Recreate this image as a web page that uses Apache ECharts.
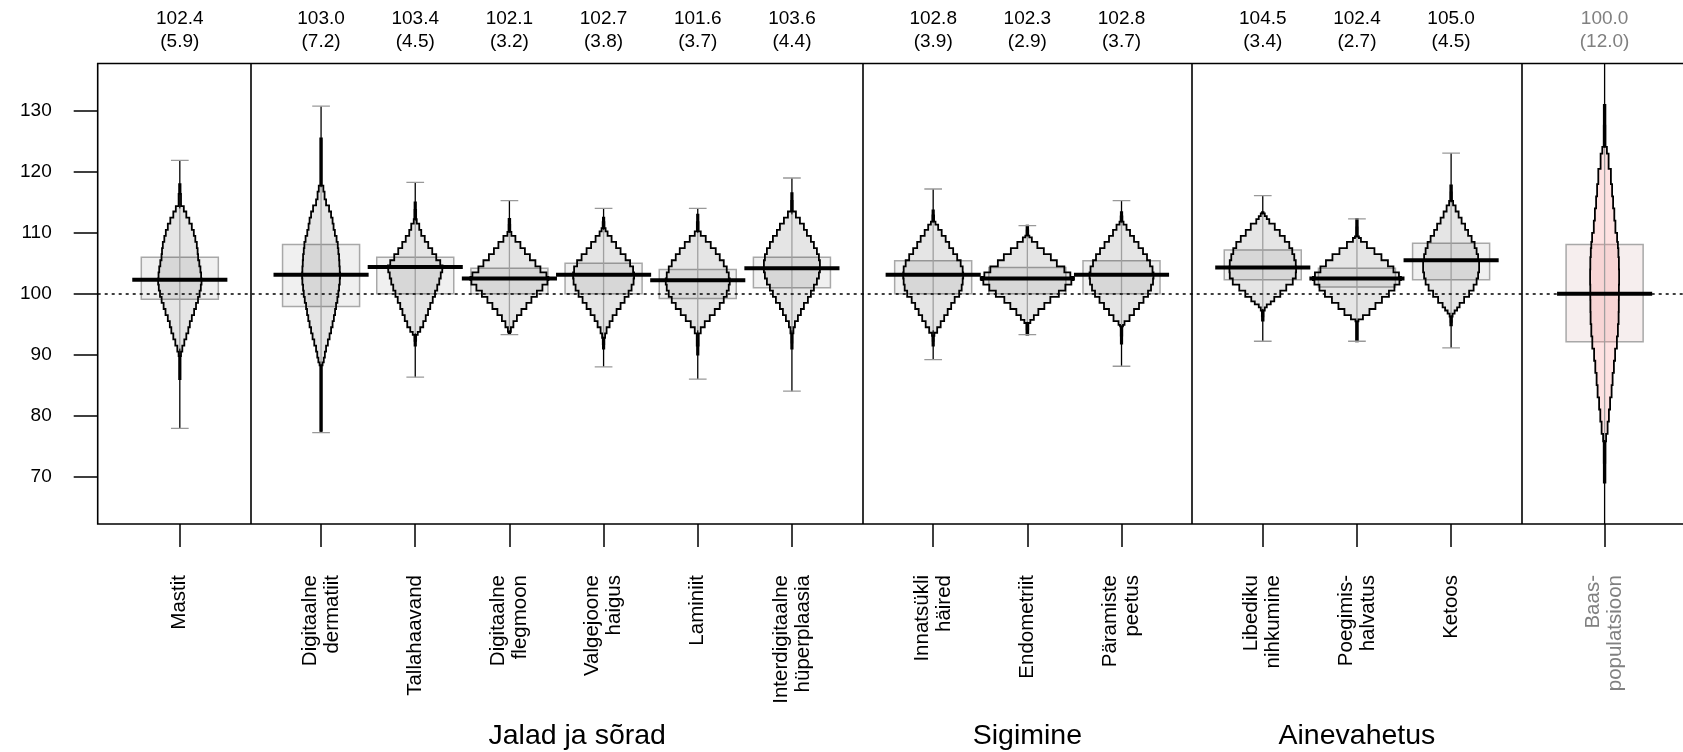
<!DOCTYPE html>
<html><head><meta charset="utf-8">
<script src="https://cdn.jsdelivr.net/npm/echarts@6/dist/echarts.min.js"></script>
<style>html,body{margin:0;padding:0;background:#fff}#c{width:1683px;height:752px}</style>
</head><body><div id="c"></div>
<script>
// ---------- data ----------
const categories = ['Mastit', 'Digitaalne\ndermatiit', 'Tallahaavand', 'Digitaalne\nflegmoon', 'Valgejoone\nhaigus',
  'Laminiit', 'Interdigitaalne\nhüperplaasia', 'Innatsükli\nhäired', 'Endometriit', 'Päramiste\npeetus',
  'Libediku\nnihkumine', 'Poegimis-\nhalvatus', 'Ketoos', 'Baas-\npopulatsioon'];
const positions = [1, 2.5, 3.5, 4.5, 5.5, 6.5, 7.5, 9, 10, 11, 12.5, 13.5, 14.5, 16.13];
const meanLabels = [102.4, 103.0, 103.4, 102.1, 102.7, 101.6, 103.6, 102.8, 102.3, 102.8, 104.5, 102.4, 105.0, 100.0];
const sdLabels = [5.9, 7.2, 4.5, 3.2, 3.8, 3.7, 4.4, 3.9, 2.9, 3.7, 3.4, 2.7, 4.5, 12.0];
const centerLine = [102.3, 103.1, 104.4, 102.5, 103.1, 102.2, 104.2, 103.1, 102.5, 103.1, 104.3, 102.5, 105.5, 100.0];
const boxLow = [99.1, 97.9, 100.0, 100.0, 100.0, 99.2, 101.0, 100.0, 100.0, 100.0, 102.3, 101.1, 102.3, 92.1];
const boxHigh = [106.0, 108.1, 106.0, 104.2, 105.0, 104.0, 106.0, 105.4, 104.3, 105.4, 107.2, 104.2, 108.3, 108.1];
const whiskerLow = [77.9, 77.2, 86.3, 93.3, 88.0, 86.0, 84.0, 89.2, 93.3, 88.1, 92.2, 92.2, 91.1, 55];
const whiskerHigh = [121.9, 130.8, 118.3, 115.3, 114.0, 114.0, 119.0, 117.2, 111.2, 115.3, 116.1, 112.3, 123.1, 145];
// violin half-widths (density) at score values, top to bottom: [score, density]
const violinProfiles = [
  [[118,0.7],[114.8,1.2],[114,4],[113,6.5],[112,9.5],[111,12],[110,14],[109,15.5],[108,17],[107,17.8],[106,18.3],[105,19.5],[104,20.6],[103,21.3],[102,21.7],[101,21],[100,19.8],[99,18.2],[98,16.2],[97,14.3],[96,12],[95,10],[94,8.5],[93,6.5],[92,4.5],[91,2.5],[90,1.2],[89.5,0.7],[86,0.7]],
  [[125.5,0.8],[118,0.8],[117.5,2.3],[116,3.5],[115,5],[114,8],[113,10],[112,11.5],[111,12.5],[110,13.8],[109,15.5],[108,16.7],[107,17.3],[106,18],[105,18.3],[104,18.7],[103,19],[102,18.7],[101,18],[100,17.3],[99,16.3],[98,15],[97,14],[96,12.8],[95,11.5],[94,10],[93,8.5],[92,6.8],[91,5],[90,3.8],[89,2.7],[88.5,1.5],[88,0.8],[77.5,0.8]],
  [[115,0.7],[112.5,0.9],[112,1.5],[111,4],[110,6],[109,9.5],[108,13],[107,17],[106,21],[105,25],[104.3,27.3],[104,27],[103,25.5],[102,24],[101,22],[100,19.8],[99,17.5],[98,15],[97,12.8],[96,10.5],[95,8],[94,5],[93.5,2.5],[93,0.9],[91.5,0.7]],
  [[112.3,0.8],[110.3,0.9],[110,2],[109,6],[108,11],[107,15.5],[106,20.5],[105,26],[104,31],[103,37],[102.5,39],[102,38],[101,33],[100,27.5],[99,22],[98,17],[97,12],[96,7.5],[95,4],[94,1.5],[93.5,0.8]],
  [[112.5,0.7],[111,0.9],[110.5,2],[110,4],[109,8],[108,12.5],[107,17],[106,22],[105,26.5],[104,29.5],[103,30.5],[102,30],[101,28],[100,25],[99,21],[98,17],[97,13],[96,9],[95,6],[94,3],[93,1.5],[92.5,0.8],[91,0.7]],
  [[113,0.7],[110.5,0.9],[110,3],[109,8],[108,13],[107,18],[106,22],[105,26],[104,29],[103,31],[102,32],[101,31],[100,29],[99,26],[98,22],[97,17],[96,12],[95,7],[94,3],[93,1],[90,0.7]],
  [[116.5,0.7],[114,0.9],[113,4],[112,8],[111,12],[110,15],[109,19],[108,22],[107,25],[106,27],[105,28],[104,28],[103,27],[102,25],[101,22],[100,19],[99,16],[98,12],[97,9],[96,6],[95,3],[94,1.5],[93,0.8],[91,0.7]],
  [[113.7,0.7],[112,0.9],[111.7,2.3],[111,5],[110,8.5],[109,12.5],[108,16],[107,20],[106,24],[105,27.5],[104,29.5],[103,30],[102,29.5],[101,28.5],[100,26],[99,21.5],[98,18],[97,14.5],[96,11],[95,7.5],[94,4],[93.2,1.2],[93,0.8],[91.5,0.7]],
  [[111.2,0.8],[109.6,0.9],[109.5,2],[109,4.5],[108,10],[107,16.5],[106,23.5],[105,29.5],[104,37],[103,43],[102.5,46],[102,44],[101,38],[100,31.5],[99,23],[98,17],[97,11],[96,6.5],[95.4,3],[95,1],[93.3,0.9]],
  [[113.4,0.7],[112,0.9],[111.7,2],[111,5],[110,8.5],[109,12.5],[108,17],[107,21.5],[106,25.5],[105,28.5],[104,31],[103,32],[102,31.5],[101,29.5],[100,26.5],[99,22],[98,17.5],[97,12.5],[96,8],[95,3],[94.8,1.5],[94.5,0.8],[91.8,0.7]],
  [[113.4,0.8],[113,2],[112.5,4],[112,6.5],[111,12],[110,17],[109,22],[108,26.5],[107,29.5],[106,31.5],[105,33],[104,33.3],[103,33],[102,30],[101,23.5],[100,17.5],[99,11.5],[98.5,8],[98,4],[97.5,2],[97,0.9],[95.6,0.8]],
  [[112.3,0.8],[109.5,0.9],[109.3,2],[109,4],[108,10],[107,17.5],[106,24.5],[105,31],[104,36.5],[103,42],[102.5,44],[102,42.5],[101,37.5],[100,32],[99,25],[98,18.5],[97,12.5],[96,6],[95.6,1.5],[95.3,0.9],[92.2,0.9]],
  [[117.8,0.8],[115.5,0.9],[115,2],[114,4.5],[113,7.5],[112,10.5],[111,14],[110,17],[109,20.5],[108,23.5],[107,25.5],[106,27],[105,28],[104,28],[103,27],[102,25.5],[101,22.5],[100,18],[99,13],[98,8.5],[97.5,6],[97,3.5],[96.5,1.5],[96,0.9],[94.8,0.8]],
  [[131,0.8],[124.2,0.9],[124,2.3],[122,4],[119,6.3],[117,7.5],[115,8.5],[113,9.7],[111,10.8],[109,12.5],[108,13.3],[107,13.8],[105,14.3],[103,14.5],[100,14.3],[98,14.2],[96,14],[94,13.3],[92,12.3],[90,10.5],[88,9.3],[86,8],[84,7],[82,5.5],[80,4.3],[78,3],[76,1.5],[75.5,0.9],[69,0.8]]
];
const groupNames = ['Jalad ja sõrad', 'Sigimine', 'Ainevahetus'];
const groupCenters = [5.22, 10, 13.5];
const separators = [1.75, 8.25, 11.75, 15.25];
const yTicks = [70, 80, 90, 100, 110, 120, 130];
const referenceScore = 100;

// ---------- layout / style ----------
const X_MIN = 0.128, X_MAX = 17.143, Y_MIN = 62.2, Y_MAX = 137.8;
const DENS_PX = 1 / 94.17;   // x-units per density unit
const FONT = "'Liberation Sans', Arial, sans-serif";
const BASE = categories.length - 1;
const idxOf = v => positions.findIndex(p => Math.abs(p - v) < 1e-6);
const labelColor = v => idxOf(v) === BASE ? '#808080' : '#000';

// stepped outline (histogram-like), switching width halfway between profile levels
function stepSide(prof, cx, sign, scale, py) {
  const out = [];
  for (let k = 0; k < prof.length; k++) {
    const [v, d] = prof[k];
    const xk = cx + sign * d * scale;
    const yTop = k === 0 ? py(v) : py((prof[k - 1][0] + v) / 2);
    const yBot = k === prof.length - 1 ? py(v) : py((v + prof[k + 1][0]) / 2);
    out.push([xk, yTop], [xk, yBot]);
  }
  return out;
}

function renderItem(params, api) {
  const i = params.dataIndex;
  const x = api.value(0);
  const unit = api.size([1, 0])[0];
  const cx = api.coord([x, 100])[0];
  const py = v => api.coord([x, v])[1];
  const isBase = i === BASE;
  const children = [];
  const bw = 0.409 * unit;
  const bt = py(api.value(3)), bb = py(api.value(2));
  children.push({type: 'rect', shape: {x: cx - bw, y: bt, width: 2 * bw, height: bb - bt},
    style: {fill: isBase ? '#f6eeee' : '#f0f0f0', stroke: '#a8a8a8', lineWidth: 1.5}});
  const prof = violinProfiles[i];
  const scale = DENS_PX * unit;
  const left = stepSide(prof, cx, -1, scale, py);
  const right = stepSide(prof, cx, 1, scale, py).reverse();
  const pts = left.concat(right);
  children.push({type: 'polygon', shape: {points: pts},
    style: {fill: isBase ? 'rgba(250,150,150,0.28)' : 'rgba(0,0,0,0.1)', stroke: null}});
  const first = prof.findIndex(p => p[1] >= 1.5);
  const last = prof.length - 1 - prof.slice().reverse().findIndex(p => p[1] >= 1.5);
  const bodyTop = prof[first][0], bodyBot = prof[last][0];
  children.push({type: 'line', shape: {x1: cx, y1: py(bodyTop), x2: cx, y2: py(bodyBot)},
    style: {stroke: '#a0a0a0', lineWidth: 1.3}});
  const wHi = whiskerHigh[i], wLo = whiskerLow[i];
  children.push({type: 'line', shape: {x1: cx, y1: py(wHi), x2: cx, y2: py(bodyTop)}, style: {stroke: '#000', lineWidth: 1.3}});
  children.push({type: 'line', shape: {x1: cx, y1: py(bodyBot), x2: cx, y2: py(wLo)}, style: {stroke: '#000', lineWidth: 1.3}});
  children.push({type: 'polygon', shape: {points: pts}, style: {fill: 'none', stroke: '#000', lineWidth: 1.8}});
  const cw = 0.094 * unit;
  [wHi, wLo].forEach(v => children.push({type: 'line', shape: {x1: cx - cw, y1: py(v), x2: cx + cw, y2: py(v)},
    style: {stroke: '#999', lineWidth: 1.3}}));
  const my = py(api.value(1));
  children.push({type: 'line', shape: {x1: cx - 0.505 * unit, y1: my, x2: cx + 0.505 * unit, y2: my},
    style: {stroke: '#000', lineWidth: 4}});
  return {type: 'group', children};
}

const chart = echarts.init(document.getElementById('c'), null, {renderer: 'canvas'});
const axisCommon = {type: 'value', min: X_MIN, max: X_MAX, splitLine: {show: false}, axisLine: {show: false}};
chart.setOption({
  animation: false,
  backgroundColor: '#fff',
  grid: {left: 97.7, top: 63.5, right: -17, height: 460.5, show: true, borderColor: '#000', borderWidth: 1.6,
    containLabel: false, outerBoundsMode: 'none'},
  xAxis: [
    Object.assign({}, axisCommon, {
      position: 'bottom',
      axisTick: {show: true, customValues: positions, length: 23, lineStyle: {color: '#000', width: 1.5}},
      axisLabel: {show: true, customValues: positions, rotate: 90, margin: 51, fontSize: 20.5, lineHeight: 22,
        fontFamily: FONT, color: labelColor, formatter: v => categories[idxOf(v)] || ''}
    }),
    Object.assign({}, axisCommon, {
      position: 'top',
      axisTick: {show: false},
      axisLabel: {show: true, customValues: positions, margin: 10, fontSize: 19, lineHeight: 23, fontFamily: FONT,
        color: labelColor,
        formatter: v => { const k = idxOf(v); return k < 0 ? '' : meanLabels[k].toFixed(1) + '\n(' + sdLabels[k].toFixed(1) + ')'; }}
    }),
    Object.assign({}, axisCommon, {
      position: 'bottom', offset: 190,
      axisTick: {show: false},
      axisLabel: {show: true, customValues: groupCenters, margin: 8, fontSize: 28.5, fontFamily: FONT, color: '#000',
        formatter: v => { const k = groupCenters.findIndex(g => Math.abs(g - v) < 1e-6); return k < 0 ? '' : groupNames[k]; }}
    })
  ],
  yAxis: {
    type: 'value', min: Y_MIN, max: Y_MAX, splitLine: {show: false}, axisLine: {show: false},
    axisTick: {show: true, customValues: yTicks, length: 24, lineStyle: {color: '#000', width: 1.5}},
    axisLabel: {show: true, customValues: yTicks, margin: 46, fontSize: 19, fontFamily: FONT, color: '#000'}
  },
  series: [
    {
      type: 'custom', name: 'violin', xAxisIndex: 0, yAxisIndex: 0, clip: true, z: 2,
      renderItem: renderItem,
      data: positions.map((p, i) => [p, centerLine[i], boxLow[i], boxHigh[i]])
    },
    {
      type: 'line', xAxisIndex: 0, yAxisIndex: 0, data: [], z: 3,
      markLine: {
        symbol: 'none', silent: true, animation: false, label: {show: false},
        data: separators.map(s => ({xAxis: s, lineStyle: {color: '#000', width: 1.6, type: 'solid'}}))
          .concat([{yAxis: referenceScore, lineStyle: {color: '#000', width: 1.5, type: [3, 4]}}])
      }
    }
  ]
});
</script></body></html>
